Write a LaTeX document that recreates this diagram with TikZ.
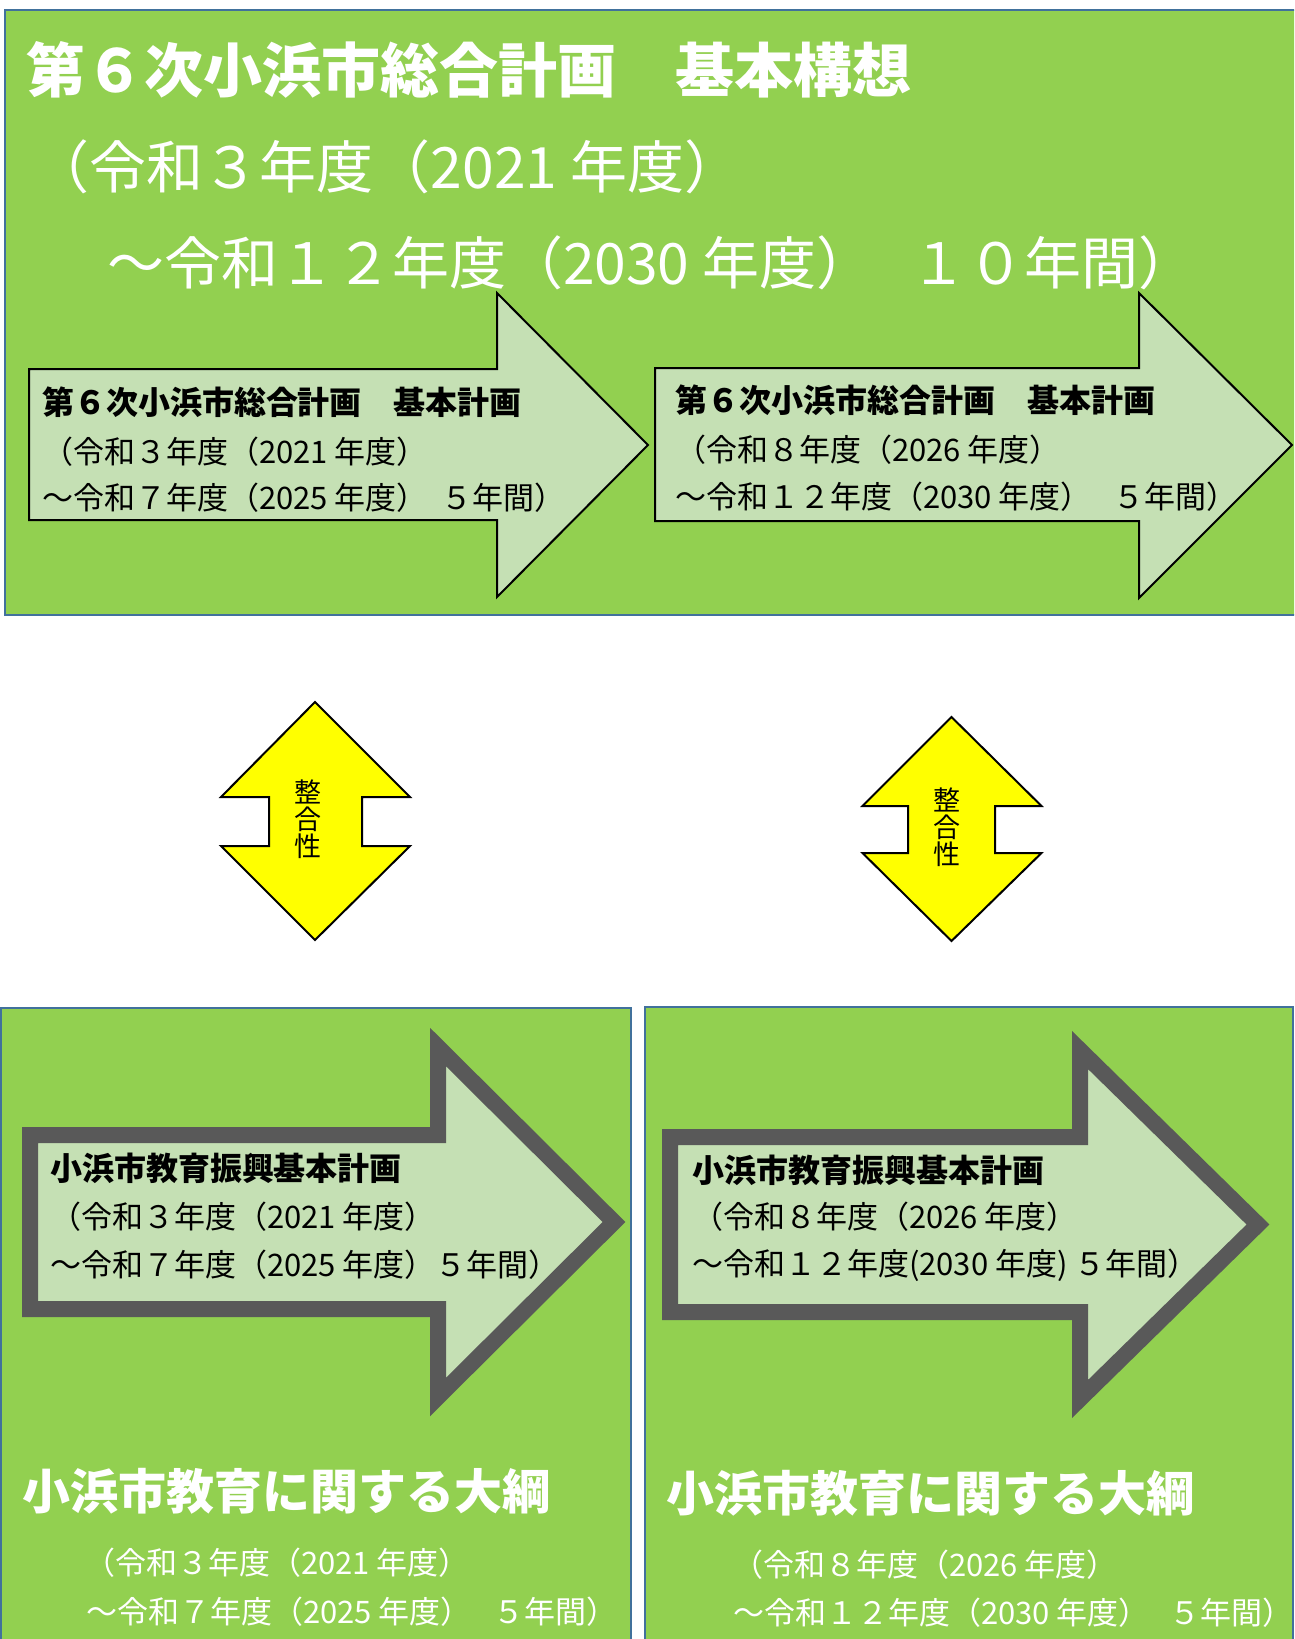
\documentclass[tikz,border=0pt]{standalone}
\usepackage{fontspec}
\setmainfont{Noto Sans CJK JP}
\definecolor{pgreen}{HTML}{92D050}
\definecolor{pblue}{HTML}{41719C}
\definecolor{plight}{HTML}{C5E0B4}
\definecolor{pgray}{HTML}{595959}
\definecolor{pyellow}{HTML}{FFFF00}
\tikzset{
  panel/.style={fill=pgreen, draw=pblue, line width=2.5pt},
  thinarrow/.style={fill=plight, draw=black, line width=2pt, line join=miter},
  thickarrow/.style={fill=plight, draw=pgray, line width=16pt, line join=miter, miter limit=10},
  dblarrow/.style={fill=pyellow, draw=black, line width=2pt, line join=miter},
  txt/.style={anchor=west, inner sep=0pt, outer sep=0pt},
  big/.style={font=\bfseries\fontsize{59}{59}\selectfont, text=white},
  mid/.style={font=\fontsize{57}{57}\selectfont, text=white},
  ahead/.style={font=\bfseries\fontsize{32}{32}\selectfont, text=black},
  abody/.style={font=\fontsize{31}{31}\selectfont, text=black},
  outl/.style={font=\bfseries\fontsize{48}{48}\selectfont, text=white},
  outs/.style={font=\fontsize{31}{31}\selectfont, text=white},
  vlab/.style={font=\fontsize{27}{27}\selectfont, text=black, align=center, inner sep=0pt},
}
\begin{document}
\begin{tikzpicture}[x=1pt,y=-1pt]
\useasboundingbox (0,0) rectangle (1294,1639);
\clip (0,0) rectangle (1294,1639);
% panels
\draw[panel] (5,10) rectangle (1310,615);
\draw[panel] (1,1008) rectangle (631,1660);
\draw[panel] (645,1007) rectangle (1293,1660);
% top title
\node[txt, big] (t1) at (27,70) {第６次小浜市総合計画　基本構想};
\node[txt, mid] (t2) at (32,167) {（令和３年度（2021 年度）};
\node[txt, mid] (t3) at (107,263) {～令和１２年度（2030 年度）\hspace{0.65em}１０年間）};
% top arrows
\draw[thinarrow] (29,369) -- (497,369) -- (497,293) -- (648,445) -- (497,597) -- (497,520) -- (29,520) -- cycle;
\draw[thinarrow] (655,368) -- (1139,368) -- (1139,293) -- (1292,445) -- (1139,598) -- (1139,521) -- (655,521) -- cycle;
\node[txt, ahead] (a1) at (42,402) {第６次小浜市総合計画　基本計画};
\node[txt, abody] (a2) at (42,452) {（令和３年度（2021 年度）};
\node[txt, abody] (a3) at (42,498) {～令和７年度（2025 年度）\hspace{0.45em}５年間）};
\node[txt, ahead] (b1) at (675,400) {第６次小浜市総合計画　基本計画};
\node[txt, abody] (b2) at (675,450) {（令和８年度（2026 年度）};
\node[txt, abody] (b3) at (675,497) {～令和１２年度（2030 年度）\hspace{0.7em}５年間）};
% double arrows
\draw[dblarrow] (315,702) -- (410,797) -- (362,797) -- (362,846) -- (410,846) -- (315,940) -- (221,846) -- (269,846) -- (269,797) -- (221,797) -- cycle;
\node[vlab] (c1) at (308,819) {整\\[0pt]合\\[0pt]性};
\draw[dblarrow] (951.5,717) -- (1041.5,806) -- (995,806) -- (995,853) -- (1041.5,853) -- (951.5,941) -- (862.5,853) -- (908,853) -- (908,806) -- (862.5,806) -- cycle;
\node[vlab] (c2) at (947,827) {整\\[0pt]合\\[0pt]性};
% bottom arrows
\draw[thickarrow] (30,1135) -- (438,1135) -- (438,1047) -- (614,1222) -- (438,1397) -- (438,1309) -- (30,1309) -- cycle;
\draw[thickarrow] (670,1137) -- (1080,1137) -- (1080,1050) -- (1258,1224.5) -- (1080,1399) -- (1080,1312) -- (670,1312) -- cycle;
\node[txt, ahead] (d1) at (50,1168) {小浜市教育振興基本計画};
\node[txt, abody] (d2) at (50,1217) {（令和３年度（2021 年度）};
\node[txt, abody] (d3) at (50,1265) {～令和７年度（2025 年度）５年間）};
\node[txt, ahead] (e1) at (692,1170) {小浜市教育振興基本計画};
\node[txt, abody] (e2) at (692,1217) {（令和８年度（2026 年度）};
\node[txt, abody] (e3) at (692,1265) {～令和１２年度(2030 年度) ５年間）};
% bottom labels
\node[txt, outl] (f1) at (23,1491) {小浜市教育に関する大綱};
\node[txt, outs] (f2) at (84,1563) {（令和３年度（2021 年度）};
\node[txt, outs] (f3) at (86,1612) {～令和７年度（2025 年度）\hspace{0.7em}５年間）};
\node[txt, outl] (g1) at (666,1493) {小浜市教育に関する大綱};
\node[txt, outs] (g2) at (732,1565) {（令和８年度（2026 年度）};
\node[txt, outs] (g3) at (733,1613) {～令和１２年度（2030 年度）\hspace{0.65em}５年間）};
\end{tikzpicture}
\end{document}
